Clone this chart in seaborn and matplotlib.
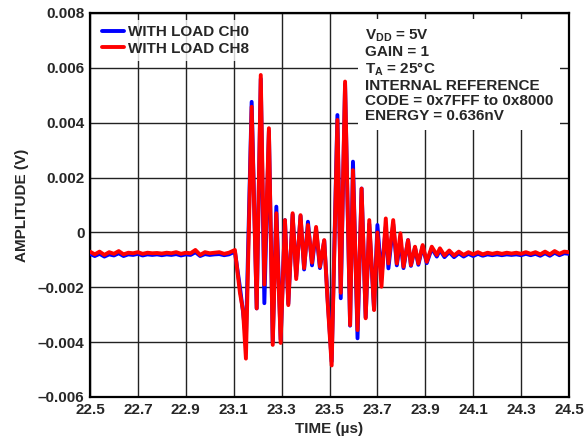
import pandas as pd
import matplotlib
matplotlib.use("Agg")
import matplotlib.pyplot as plt
import seaborn as sns

# Waveform (time in us, amplitude in mV)
time_us = [
    22.50, 22.52, 22.54, 22.56, 22.58, 22.60, 22.62, 22.64, 22.66, 22.68,
    22.70, 22.72, 22.74, 22.76, 22.78, 22.80, 22.82, 22.84, 22.86, 22.88,
    22.90, 22.92, 22.94, 22.96, 22.98, 23.00, 23.02, 23.04, 23.06, 23.08,
    23.105, 23.126, 23.139, 23.151, 23.175, 23.196, 23.213, 23.228, 23.247, 23.263,
    23.278, 23.296, 23.314, 23.328, 23.346, 23.361, 23.379, 23.394, 23.410, 23.427,
    23.444, 23.460, 23.478, 23.492, 23.509, 23.533, 23.547, 23.565, 23.586, 23.598,
    23.617, 23.634, 23.651, 23.666, 23.686, 23.700, 23.717, 23.735, 23.746, 23.766,
    23.781, 23.796, 23.809, 23.828, 23.840, 23.857, 23.871, 23.889, 23.906, 23.927,
    23.948, 23.961,
    23.98, 24.00, 24.02, 24.04, 24.06, 24.08, 24.10, 24.12, 24.14, 24.16,
    24.18, 24.20, 24.22, 24.24, 24.26, 24.28, 24.30, 24.32, 24.34, 24.36,
    24.38, 24.40, 24.42, 24.44, 24.46, 24.48, 24.50,
]

ch0_mv = [
    -0.78, -0.86, -0.78, -0.88, -0.80, -0.84, -0.76, -0.86, -0.80, -0.82,
    -0.78, -0.84, -0.80, -0.82, -0.80, -0.83, -0.80, -0.82, -0.79, -0.84,
    -0.80, -0.82, -0.72, -0.86, -0.79, -0.82, -0.80, -0.79, -0.83, -0.80,
    -0.70, -2.0, -2.9, -3.9, 4.76, -2.77, 5.6, -2.58, 3.7, -4.0,
    0.94, -3.9, 0.45, -2.6, 0.65, -1.6, 0.6, -1.35, 0.39, -1.2,
    0.1, -1.3, -0.3, -2.4, -4.7, 4.28, -2.4, 5.4, -3.4, 2.58,
    -3.86, 1.6, -3.1, 0.3, -2.8, 0.27, -1.6, 0.2, -1.31, 0.3,
    -1.2, -0.28, -1.3, -0.28, -1.22, -0.55, -1.18, -0.5, -1.12, -0.58,
    -0.88, -0.64,
    -0.90, -0.72, -0.90, -0.76, -0.88, -0.78, -0.86, -0.78, -0.85, -0.80,
    -0.83, -0.80, -0.83, -0.80, -0.82, -0.80, -0.83, -0.78, -0.83, -0.78,
    -0.85, -0.76, -0.85, -0.74, -0.83, -0.76, -0.78,
]

ch8_mv = [
    -0.70, -0.80, -0.70, -0.82, -0.72, -0.78, -0.68, -0.80, -0.74, -0.76,
    -0.72, -0.78, -0.74, -0.76, -0.75, -0.77, -0.74, -0.76, -0.72, -0.78,
    -0.74, -0.76, -0.64, -0.82, -0.72, -0.76, -0.74, -0.72, -0.78, -0.74,
    -0.64, -2.2, -2.85, -4.6, 4.58, -2.77, 5.74, -1.9, 3.8, -4.1,
    0.7, -4.03, 0.45, -2.65, 0.7, -1.7, 0.63, -1.3, 0.27, -1.1,
    0.2, -1.25, -0.28, -2.5, -4.85, 4.1, -2.2, 5.5, -3.38, 2.27,
    -3.56, 1.6, -3.13, 0.45, -2.83, 0.0, -1.98, 0.51, -1.13, 0.45,
    -1.13, -0.03, -1.25, -0.28, -1.19, -0.52, -1.13, -0.46, -1.07, -0.52,
    -0.82, -0.58,
    -0.84, -0.66, -0.84, -0.70, -0.82, -0.72, -0.80, -0.72, -0.80, -0.74,
    -0.78, -0.74, -0.78, -0.74, -0.77, -0.74, -0.78, -0.72, -0.78, -0.72,
    -0.80, -0.70, -0.80, -0.68, -0.78, -0.70, -0.72,
]

series_names = ["WITH LOAD CH0", "WITH LOAD CH8"]
series_colors = ["#0000ff", "#ff0000"]

x_ticks = [22.5, 22.7, 22.9, 23.1, 23.3, 23.5, 23.7, 23.9, 24.1, 24.3, 24.5]
y_ticks = [-0.006, -0.004, -0.002, 0, 0.002, 0.004, 0.006, 0.008]
y_tick_labels = ["–0.006", "–0.004", "–0.002", "0", "0.002", "0.004", "0.006", "0.008"]

info_text = "\n".join([
    r"V$_\mathbf{DD}$ = 5V",
    "GAIN = 1",
    r"T$_\mathbf{A}$ = 25°C",
    "INTERNAL REFERENCE",
    "CODE = 0x7FFF to 0x8000",
    "ENERGY = 0.636nV",
])

# long-form table for seaborn
df = pd.concat([
    pd.DataFrame({"time": time_us, "amp": [v / 1000 for v in ch0_mv], "series": series_names[0]}),
    pd.DataFrame({"time": time_us, "amp": [v / 1000 for v in ch8_mv], "series": series_names[1]}),
])

sns.set_theme(style="white")
plt.rcParams["font.family"] = ["Liberation Sans", "DejaVu Sans"]
plt.rcParams["font.weight"] = "bold"
plt.rcParams["mathtext.fontset"] = "custom"
plt.rcParams["mathtext.bf"] = "Liberation Sans:bold"
plt.rcParams["mathtext.rm"] = "Liberation Sans:bold"
plt.rcParams["mathtext.default"] = "bf"

fig = plt.figure(figsize=(5.87, 4.46), dpi=100)
ax = fig.add_axes([90 / 587, 1 - 397 / 446, 479 / 587, 384 / 446])

sns.lineplot(data=df, x="time", y="amp", hue="series", palette=series_colors,
             estimator=None, sort=False, linewidth=2.8, ax=ax, zorder=3)

ax.set_xlim(22.5, 24.5)
ax.set_ylim(-0.006, 0.008)
ax.set_xticks(x_ticks)
ax.set_xticklabels([f"{t:.1f}" for t in x_ticks], fontsize=11, fontweight="bold")
ax.set_yticks(y_ticks)
ax.set_yticklabels(y_tick_labels, fontsize=11, fontweight="bold")
ax.tick_params(length=0, pad=4)
ax.grid(True, color="#222222", linewidth=1.0)
ax.set_axisbelow(True)
for s in ax.spines.values():
    s.set_color("black")
    s.set_linewidth(1.6)

ax.set_xlabel("TIME (µs)", fontsize=11, fontweight="bold", labelpad=4)
ax.set_ylabel("AMPLITUDE (V)", fontsize=11, fontweight="bold", labelpad=6)

leg = ax.legend(loc="upper left", bbox_to_anchor=(0.0, 1.0), fontsize=11,
                handlelength=1.4, handletextpad=0.3, labelspacing=0.15,
                borderpad=0.35, borderaxespad=0.45, frameon=True, fancybox=False)
leg.get_frame().set_facecolor("white")
leg.get_frame().set_edgecolor("none")
for line in leg.get_lines():
    line.set_linewidth(2.8)

ax.text(0.574, 0.962, info_text, transform=ax.transAxes, ha="left", va="top",
        fontsize=11, fontweight="bold", linespacing=1.1, zorder=5,
        bbox=dict(facecolor="white", edgecolor="none", pad=5))

fig.savefig("out.png", dpi=100)
